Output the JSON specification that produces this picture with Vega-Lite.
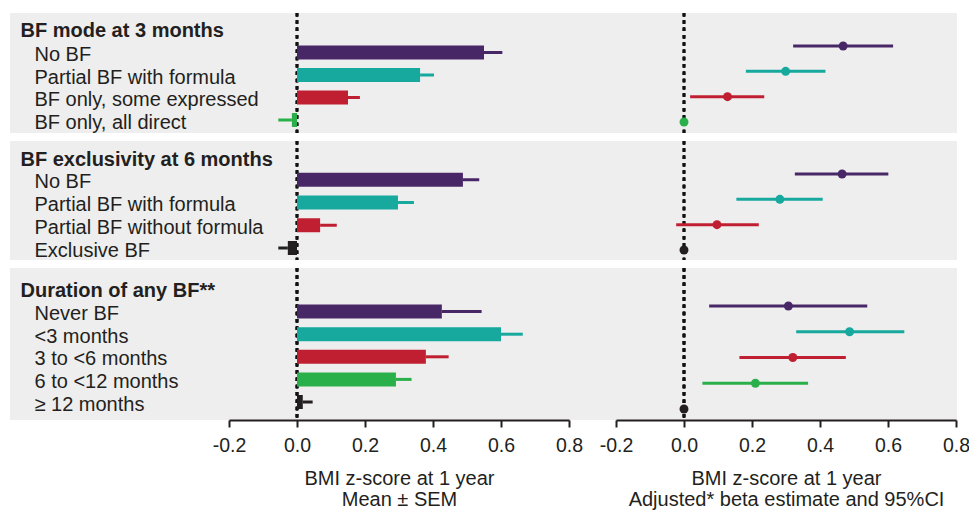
{
  "$schema": "https://vega.github.io/schema/vega-lite/v6.json",
  "padding": {"left": 10, "top": 11, "right": 12, "bottom": 0},
  "background": "white",
  "bounds": "flush",
  "datasets": {
    "rows": [
      {"panel": "p1", "label": "No BF", "mean": 0.55, "sem_end": 0.604, "beta": 0.468, "lo": 0.321, "hi": 0.615},
      {"panel": "p1", "label": "Partial BF with formula", "mean": 0.362, "sem_end": 0.403, "beta": 0.299, "lo": 0.182, "hi": 0.416},
      {"panel": "p1", "label": "BF only, some expressed", "mean": 0.15, "sem_end": 0.185, "beta": 0.128, "lo": 0.018, "hi": 0.236},
      {"panel": "p1", "label": "BF only, all direct", "mean": -0.015, "sem_end": -0.055, "beta": 0, "lo": null, "hi": null},
      {"panel": "p2", "label": "No BF", "mean": 0.488, "sem_end": 0.536, "beta": 0.465, "lo": 0.326, "hi": 0.601},
      {"panel": "p2", "label": "Partial BF with formula", "mean": 0.297, "sem_end": 0.344, "beta": 0.282, "lo": 0.154, "hi": 0.408},
      {"panel": "p2", "label": "Partial BF without formula", "mean": 0.068, "sem_end": 0.117, "beta": 0.097, "lo": -0.023, "hi": 0.22},
      {"panel": "p2", "label": "Exclusive BF", "mean": -0.027, "sem_end": -0.055, "beta": 0, "lo": null, "hi": null},
      {"panel": "p3", "label": "Never BF", "mean": 0.426, "sem_end": 0.543, "beta": 0.307, "lo": 0.074, "hi": 0.539},
      {"panel": "p3", "label": "<3 months", "mean": 0.6, "sem_end": 0.664, "beta": 0.487, "lo": 0.33, "hi": 0.648},
      {"panel": "p3", "label": "3 to <6 months", "mean": 0.379, "sem_end": 0.446, "beta": 0.32, "lo": 0.163, "hi": 0.476},
      {"panel": "p3", "label": "6 to <12 months", "mean": 0.291, "sem_end": 0.337, "beta": 0.21, "lo": 0.054, "hi": 0.365},
      {"panel": "p3", "label": "≥ 12 months", "mean": 0.017, "sem_end": 0.046, "beta": 0, "lo": null, "hi": null}
    ]
  },
  "data": {"name": "rows"},
  "spacing": 8,
  "vconcat": [
    {
      "width": 947, "height": 120,
      "transform": [{"filter": "datum.panel === 'p1'"}],
      "layer": [
        {"mark": {"type": "rule", "strokeDash": [3.5, 3.8], "strokeWidth": 2.5, "color": "#111111"},
         "encoding": {"x": {"datum": 0, "type": "quantitative", "scale": {"domain": [-0.2, 0.8], "range": [219, 559], "nice": false, "zero": false}, "axis": null}}},
        {"mark": {"type": "bar", "size": 14},
         "encoding": {
           "y": {"field": "label", "type": "nominal", "sort": null,
                 "scale": {"type": "point", "domain": ["HEAD", "No BF", "Partial BF with formula", "BF only, some expressed", "BF only, all direct"], "range": [17, 107], "padding": 0},
                 "axis": {"values": ["No BF", "Partial BF with formula", "BF only, some expressed", "BF only, all direct"],
                          "title": "BF mode at 3 months", "titleAngle": 0, "titleAlign": "left", "titleBaseline": "middle", "titleX": 10, "titleY": 17, "titleFontSize": 20, "titleFontWeight": "bold", "titleColor": "#231f20",
                          "domain": false, "ticks": false, "labelAlign": "left", "labelBaseline": "middle", "labelFontSize": 20, "labelLimit": 600, "labelColor": "#231f20", "labelPadding": -24, "labelOffset": 2}},
           "x": {"field": "mean", "type": "quantitative", "scale": {"domain": [-0.2, 0.8], "range": [219, 559], "nice": false, "zero": false}, "axis": null},
           "color": {"field": "label", "type": "nominal", "scale": {"domain": ["No BF", "Partial BF with formula", "BF only, some expressed", "BF only, all direct"], "range": ["#482767", "#17a89e", "#c01f31", "#2ab04a"]}, "legend": null}
         }},
        {"mark": {"type": "rule", "strokeWidth": 3},
         "encoding": {
           "y": {"field": "label", "type": "nominal", "sort": null, "scale": {"type": "point", "domain": ["HEAD", "No BF", "Partial BF with formula", "BF only, some expressed", "BF only, all direct"], "range": [17, 107], "padding": 0}, "axis": null},
           "x": {"field": "mean", "type": "quantitative", "scale": {"domain": [-0.2, 0.8], "range": [219, 559], "nice": false, "zero": false}, "axis": null},
           "x2": {"field": "sem_end"},
           "color": {"field": "label", "type": "nominal", "legend": null}
         }},
        {"mark": {"type": "rule", "strokeDash": [3.5, 3.8], "strokeWidth": 2.5, "color": "#111111"},
         "encoding": {"x": {"datum": 0, "type": "quantitative", "scale": {"domain": [-0.2, 0.8], "range": [606, 946], "nice": false, "zero": false}, "axis": null}}},
        {"transform": [{"filter": "datum.lo != null"}],
         "mark": {"type": "rule", "strokeWidth": 3},
         "encoding": {
           "y": {"field": "label", "type": "nominal", "sort": null, "scale": {"type": "point", "domain": ["No BF", "Partial BF with formula", "BF only, some expressed", "BF only, all direct"], "range": [33, 109], "padding": 0}, "axis": null},
           "x": {"field": "lo", "type": "quantitative", "scale": {"domain": [-0.2, 0.8], "range": [606, 946], "nice": false, "zero": false}, "axis": null},
           "x2": {"field": "hi"},
           "color": {"field": "label", "type": "nominal", "legend": null}
         }},
        {"mark": {"type": "circle", "size": 80, "opacity": 1},
         "encoding": {
           "y": {"field": "label", "type": "nominal", "sort": null, "scale": {"type": "point", "domain": ["No BF", "Partial BF with formula", "BF only, some expressed", "BF only, all direct"], "range": [33, 109], "padding": 0}, "axis": null},
           "x": {"field": "beta", "type": "quantitative", "scale": {"domain": [-0.2, 0.8], "range": [606, 946], "nice": false, "zero": false}, "axis": null},
           "color": {"field": "label", "type": "nominal", "legend": null}
         }}
      ],
      "resolve": {"scale": {"x": "independent", "y": "independent"}}
    },
    {
      "width": 947, "height": 119,
      "transform": [{"filter": "datum.panel === 'p2'"}],
      "layer": [
        {"mark": {"type": "rule", "strokeDash": [3.5, 3.8], "strokeWidth": 2.5, "color": "#111111"},
         "encoding": {"x": {"datum": 0, "type": "quantitative", "scale": {"domain": [-0.2, 0.8], "range": [219, 559], "nice": false, "zero": false}, "axis": null}}},
        {"mark": {"type": "bar", "size": 14},
         "encoding": {
           "y": {"field": "label", "type": "nominal", "sort": null,
                 "scale": {"type": "point", "domain": ["HEAD", "No BF", "Partial BF with formula", "Partial BF without formula", "Exclusive BF"], "range": [16, 107], "padding": 0},
                 "axis": {"values": ["No BF", "Partial BF with formula", "Partial BF without formula", "Exclusive BF"],
                          "title": "BF exclusivity at 6 months", "titleAngle": 0, "titleAlign": "left", "titleBaseline": "middle", "titleX": 10, "titleY": 18, "titleFontSize": 20, "titleFontWeight": "bold", "titleColor": "#231f20",
                          "domain": false, "ticks": false, "labelAlign": "left", "labelBaseline": "middle", "labelFontSize": 20, "labelLimit": 600, "labelColor": "#231f20", "labelPadding": -24, "labelOffset": 2}},
           "x": {"field": "mean", "type": "quantitative", "scale": {"domain": [-0.2, 0.8], "range": [219, 559], "nice": false, "zero": false}, "axis": null},
           "color": {"field": "label", "type": "nominal", "scale": {"domain": ["No BF", "Partial BF with formula", "Partial BF without formula", "Exclusive BF"], "range": ["#482767", "#17a89e", "#c01f31", "#231f20"]}, "legend": null}
         }},
        {"mark": {"type": "rule", "strokeWidth": 3},
         "encoding": {
           "y": {"field": "label", "type": "nominal", "sort": null, "scale": {"type": "point", "domain": ["HEAD", "No BF", "Partial BF with formula", "Partial BF without formula", "Exclusive BF"], "range": [16, 107], "padding": 0}, "axis": null},
           "x": {"field": "mean", "type": "quantitative", "scale": {"domain": [-0.2, 0.8], "range": [219, 559], "nice": false, "zero": false}, "axis": null},
           "x2": {"field": "sem_end"},
           "color": {"field": "label", "type": "nominal", "legend": null}
         }},
        {"mark": {"type": "rule", "strokeDash": [3.5, 3.8], "strokeWidth": 2.5, "color": "#111111"},
         "encoding": {"x": {"datum": 0, "type": "quantitative", "scale": {"domain": [-0.2, 0.8], "range": [606, 946], "nice": false, "zero": false}, "axis": null}}},
        {"transform": [{"filter": "datum.lo != null"}],
         "mark": {"type": "rule", "strokeWidth": 3},
         "encoding": {
           "y": {"field": "label", "type": "nominal", "sort": null, "scale": {"type": "point", "domain": ["No BF", "Partial BF with formula", "Partial BF without formula", "Exclusive BF"], "range": [33, 109], "padding": 0}, "axis": null},
           "x": {"field": "lo", "type": "quantitative", "scale": {"domain": [-0.2, 0.8], "range": [606, 946], "nice": false, "zero": false}, "axis": null},
           "x2": {"field": "hi"},
           "color": {"field": "label", "type": "nominal", "legend": null}
         }},
        {"mark": {"type": "circle", "size": 80, "opacity": 1},
         "encoding": {
           "y": {"field": "label", "type": "nominal", "sort": null, "scale": {"type": "point", "domain": ["No BF", "Partial BF with formula", "Partial BF without formula", "Exclusive BF"], "range": [33, 109], "padding": 0}, "axis": null},
           "x": {"field": "beta", "type": "quantitative", "scale": {"domain": [-0.2, 0.8], "range": [606, 946], "nice": false, "zero": false}, "axis": null},
           "color": {"field": "label", "type": "nominal", "legend": null}
         }}
      ],
      "resolve": {"scale": {"x": "independent", "y": "independent"}}
    },
    {
      "width": 947, "height": 152,
      "transform": [{"filter": "datum.panel === 'p3'"}],
      "layer": [
        {"mark": {"type": "rule", "strokeDash": [3.5, 3.8], "strokeWidth": 2.5, "color": "#111111"},
         "encoding": {"x": {"datum": 0, "type": "quantitative", "scale": {"domain": [-0.2, 0.8], "range": [219, 559], "nice": false, "zero": false}, "axis": null}}},
        {"mark": {"type": "bar", "size": 14},
         "encoding": {
           "y": {"field": "label", "type": "nominal", "sort": null,
                 "scale": {"type": "point", "domain": ["HEAD", "Never BF", "<3 months", "3 to <6 months", "6 to <12 months", "≥ 12 months"], "range": [21, 134], "padding": 0},
                 "axis": {"values": ["Never BF", "<3 months", "3 to <6 months", "6 to <12 months", "≥ 12 months"],
                          "title": "Duration of any BF**", "titleAngle": 0, "titleAlign": "left", "titleBaseline": "middle", "titleX": 10, "titleY": 22, "titleFontSize": 20, "titleFontWeight": "bold", "titleColor": "#231f20",
                          "domain": false, "ticks": false, "labelAlign": "left", "labelBaseline": "middle", "labelFontSize": 20, "labelLimit": 600, "labelColor": "#231f20", "labelPadding": -24, "labelOffset": 2}},
           "x": {"field": "mean", "type": "quantitative", "scale": {"domain": [-0.2, 0.8], "range": [219, 559], "nice": false, "zero": false},
                 "axis": {"orient": "bottom", "values": [-0.2, 0, 0.2, 0.4, 0.6, 0.8], "format": ".1f", "labelExpr": "replace(datum.label, '−', '-')", "grid": false,
                          "title": ["BMI z-score at 1 year", "Mean ± SEM"],
                          "domainColor": "#231f20", "domainWidth": 2, "tickColor": "#231f20", "tickWidth": 2, "tickSize": 7,
                          "labelFontSize": 19.5, "labelColor": "#231f20", "labelPadding": 9, "labelFlush": false,
                          "titleFontSize": 20, "titleFontWeight": "normal", "titleColor": "#231f20", "titlePadding": 14, "titleLineHeight": 21}},
           "color": {"field": "label", "type": "nominal", "scale": {"domain": ["Never BF", "<3 months", "3 to <6 months", "6 to <12 months", "≥ 12 months"], "range": ["#482767", "#17a89e", "#c01f31", "#2ab04a", "#231f20"]}, "legend": null}
         }},
        {"mark": {"type": "rule", "strokeWidth": 3},
         "encoding": {
           "y": {"field": "label", "type": "nominal", "sort": null, "scale": {"type": "point", "domain": ["HEAD", "Never BF", "<3 months", "3 to <6 months", "6 to <12 months", "≥ 12 months"], "range": [21, 134], "padding": 0}, "axis": null},
           "x": {"field": "mean", "type": "quantitative", "scale": {"domain": [-0.2, 0.8], "range": [219, 559], "nice": false, "zero": false}, "axis": null},
           "x2": {"field": "sem_end"},
           "color": {"field": "label", "type": "nominal", "legend": null}
         }},
        {"mark": {"type": "rule", "strokeDash": [3.5, 3.8], "strokeWidth": 2.5, "color": "#111111"},
         "encoding": {"x": {"datum": 0, "type": "quantitative", "scale": {"domain": [-0.2, 0.8], "range": [606, 946], "nice": false, "zero": false},
                 "axis": {"orient": "bottom", "values": [-0.2, 0, 0.2, 0.4, 0.6, 0.8], "format": ".1f", "labelExpr": "replace(datum.label, '−', '-')", "grid": false,
                          "title": ["BMI z-score at 1 year", "Adjusted* beta estimate and 95%CI"],
                          "domainColor": "#231f20", "domainWidth": 2, "tickColor": "#231f20", "tickWidth": 2, "tickSize": 7,
                          "labelFontSize": 19.5, "labelColor": "#231f20", "labelPadding": 9, "labelFlush": false,
                          "titleFontSize": 20, "titleFontWeight": "normal", "titleColor": "#231f20", "titlePadding": 14, "titleLineHeight": 21}}}},
        {"transform": [{"filter": "datum.lo != null"}],
         "mark": {"type": "rule", "strokeWidth": 3},
         "encoding": {
           "y": {"field": "label", "type": "nominal", "sort": null, "scale": {"type": "point", "domain": ["Never BF", "<3 months", "3 to <6 months", "6 to <12 months", "≥ 12 months"], "range": [38, 141], "padding": 0}, "axis": null},
           "x": {"field": "lo", "type": "quantitative", "scale": {"domain": [-0.2, 0.8], "range": [606, 946], "nice": false, "zero": false}, "axis": null},
           "x2": {"field": "hi"},
           "color": {"field": "label", "type": "nominal", "legend": null}
         }},
        {"mark": {"type": "circle", "size": 80, "opacity": 1},
         "encoding": {
           "y": {"field": "label", "type": "nominal", "sort": null, "scale": {"type": "point", "domain": ["Never BF", "<3 months", "3 to <6 months", "6 to <12 months", "≥ 12 months"], "range": [38, 141], "padding": 0}, "axis": null},
           "x": {"field": "beta", "type": "quantitative", "scale": {"domain": [-0.2, 0.8], "range": [606, 946], "nice": false, "zero": false}, "axis": null},
           "color": {"field": "label", "type": "nominal", "legend": null}
         }}
      ],
      "resolve": {"scale": {"x": "independent", "y": "independent"}}
    }
  ],
  "resolve": {"scale": {"color": "independent"}},
  "config": {
    "font": "Liberation Sans",
    "view": {"stroke": null, "fill": "#eeeeee"},
    "axis": {"labelFont": "Liberation Sans", "titleFont": "Liberation Sans"}
  }
}
